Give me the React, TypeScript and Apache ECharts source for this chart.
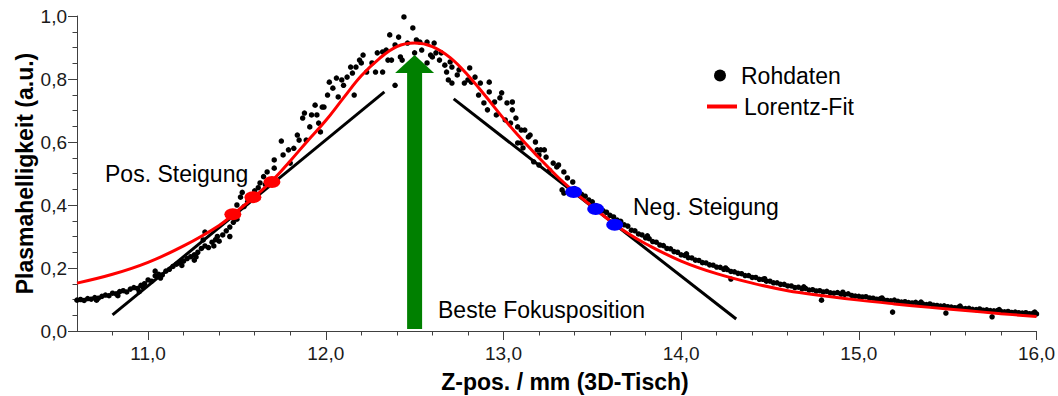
import React, { useEffect, useRef } from "react";
import * as echarts from "echarts";

const FONT = "'Liberation Sans', Arial, sans-serif";

// Tick values
const xMajorTicks = [11, 12, 13, 14, 15, 16];
const xMinorTicks = [10.8, 11.2, 11.4, 11.6, 11.8, 12.2, 12.4, 12.6, 12.8, 13.2, 13.4, 13.6, 13.8, 14.2, 14.4, 14.6, 14.8, 15.2, 15.4, 15.6, 15.8];

// Raw data (Rohdaten)
const rawLeftTail: [number, number][] = [
  [10.6, 0.098], [10.62, 0.1], [10.64, 0.097], [10.66, 0.103], [10.68, 0.101], [10.7, 0.106], [10.72, 0.104],
  [10.74, 0.11], [10.76, 0.114], [10.78, 0.112], [10.8, 0.12], [10.82, 0.118], [10.84, 0.125], [10.86, 0.128],
  [10.88, 0.124], [10.9, 0.133], [10.92, 0.138], [10.94, 0.135], [10.96, 0.145], [10.98, 0.15], [11.0, 0.162],
  [11.02, 0.158], [11.04, 0.175], [11.06, 0.18], [11.08, 0.178], [11.1, 0.19], [11.12, 0.196], [11.14, 0.205],
  [11.16, 0.212], [11.18, 0.218], [11.2, 0.222], [11.22, 0.23], [11.24, 0.236], [11.26, 0.242], [11.28, 0.25],
  [11.3, 0.262], [11.32, 0.27], [11.34, 0.265], [11.36, 0.282], [11.38, 0.29], [11.4, 0.285], [11.42, 0.305],
  [11.44, 0.318], [11.46, 0.33], [11.48, 0.345], [11.5, 0.355],
  [11.26, 0.225], [11.32, 0.314], [11.31, 0.289], [11.39, 0.3], [11.46, 0.3], [11.37, 0.27], [11.04, 0.19], [10.95, 0.125],
  [10.71, 0.098], [10.83, 0.112], [10.97, 0.14], [11.07, 0.168], [11.19, 0.208], [11.27, 0.235],
];
const rawRise: [number, number][] = [
  [11.5, 0.4], [11.52, 0.425], [11.53, 0.44], [11.54, 0.395], [11.56, 0.41], [11.58, 0.43], [11.6, 0.445],
  [11.62, 0.455], [11.63, 0.47], [11.65, 0.49], [11.66, 0.465],
  [11.67, 0.505], [11.71, 0.517], [11.71, 0.543], [11.75, 0.603], [11.76, 0.559], [11.79, 0.575], [11.8, 0.533],
  [11.82, 0.58], [11.84, 0.622], [11.85, 0.606], [11.87, 0.676], [11.88, 0.692], [11.89, 0.606], [11.91, 0.648],
  [11.92, 0.686], [11.94, 0.717], [11.95, 0.686], [11.96, 0.66], [11.97, 0.632], [11.98, 0.711],
];
const rawPeak: [number, number][] = [
  [11.99, 0.711], [12.01, 0.749], [12.02, 0.79], [12.04, 0.771], [12.06, 0.803], [12.07, 0.743], [12.09, 0.797],
  [12.1, 0.78], [12.12, 0.806], [12.14, 0.838], [12.15, 0.819], [12.16, 0.749], [12.17, 0.838], [12.19, 0.86],
  [12.2, 0.851], [12.21, 0.876], [12.23, 0.822], [12.26, 0.851], [12.28, 0.822], [12.29, 0.883], [12.32, 0.886],
  [12.32, 0.822], [12.34, 0.892], [12.35, 0.86], [12.36, 0.94], [12.37, 0.86], [12.39, 0.908], [12.39, 0.78],
  [12.41, 0.933], [12.42, 0.87], [12.43, 0.86], [12.44, 0.997], [12.46, 0.914], [12.49, 0.962], [12.5, 0.883],
  [12.51, 0.924], [12.53, 0.917], [12.54, 0.892], [12.57, 0.917], [12.57, 0.851], [12.59, 0.876], [12.6, 0.87],
  [12.61, 0.914], [12.62, 0.883], [12.64, 0.86], [12.65, 0.883], [12.67, 0.844], [12.68, 0.822], [12.7, 0.854],
  [12.69, 0.797], [12.71, 0.838], [12.74, 0.813], [12.71, 0.787],
];
const rawFall: [number, number][] = [
  [12.75, 0.829], [12.78, 0.787], [12.8, 0.797], [12.81, 0.835], [12.82, 0.79], [12.84, 0.806], [12.86, 0.749],
  [12.87, 0.787], [12.89, 0.724], [12.91, 0.702], [12.92, 0.79], [12.92, 0.759], [12.95, 0.727], [12.96, 0.686],
  [12.98, 0.74], [12.99, 0.756], [13.01, 0.67], [13.02, 0.724], [13.04, 0.66], [13.05, 0.727], [13.05, 0.702],
  [13.07, 0.676], [13.08, 0.648], [13.1, 0.638], [13.1, 0.597], [13.12, 0.638], [13.14, 0.616], [13.15, 0.622],
  [13.18, 0.6], [13.19, 0.575], [13.08, 0.597], [13.11, 0.581], [13.2, 0.559], [13.21, 0.575], [13.23, 0.575],
  [13.24, 0.552], [13.17, 0.537], [13.2, 0.527], [13.28, 0.533], [13.3, 0.521], [13.31, 0.527], [13.34, 0.505],
  [13.36, 0.486], [13.33, 0.448], [13.34, 0.438], [13.39, 0.473], [13.26, 0.51],
];
const rawRightTail: [number, number][] = [
  [13.4, 0.452], [13.42, 0.446], [13.44, 0.434], [13.46, 0.428], [13.48, 0.416], [13.5, 0.41], [13.52, 0.398],
  [13.54, 0.393], [13.56, 0.382], [13.58, 0.377], [13.6, 0.367], [13.62, 0.362], [13.64, 0.352], [13.66, 0.348],
  [13.68, 0.337], [13.7, 0.333], [13.72, 0.32], [13.74, 0.318], [13.76, 0.308], [13.78, 0.305], [13.8, 0.296],
  [13.82, 0.293], [13.84, 0.284], [13.86, 0.282], [13.88, 0.273], [13.9, 0.271], [13.92, 0.262], [13.94, 0.261],
  [13.96, 0.252], [13.98, 0.25], [14.0, 0.242], [14.02, 0.24], [14.04, 0.233], [14.06, 0.232], [14.08, 0.225],
  [14.1, 0.224], [14.12, 0.217], [14.14, 0.216], [14.16, 0.21], [14.18, 0.209], [14.2, 0.203], [14.22, 0.202],
  [14.24, 0.196], [14.26, 0.195], [14.28, 0.189], [14.3, 0.188], [14.32, 0.183], [14.34, 0.182], [14.36, 0.176],
  [14.38, 0.176], [14.4, 0.17], [14.42, 0.17], [14.44, 0.164], [14.46, 0.164], [14.48, 0.158], [14.5, 0.158],
  [14.52, 0.153], [14.54, 0.153], [14.56, 0.148], [14.58, 0.148], [14.6, 0.143], [14.62, 0.143], [14.64, 0.138],
  [14.66, 0.139], [14.68, 0.134], [14.7, 0.135], [14.72, 0.13], [14.74, 0.131], [14.76, 0.127], [14.78, 0.128],
  [14.8, 0.124], [14.82, 0.126], [14.84, 0.121], [14.86, 0.12], [14.88, 0.122], [14.9, 0.117], [14.92, 0.116],
  [14.94, 0.118], [14.96, 0.113], [14.98, 0.111], [15.0, 0.11], [15.02, 0.108], [15.04, 0.109], [15.06, 0.105],
  [15.08, 0.104], [15.1, 0.101], [15.12, 0.102], [15.14, 0.099], [15.16, 0.097], [15.18, 0.096], [15.2, 0.098],
  [15.22, 0.094], [15.24, 0.092], [15.26, 0.093], [15.28, 0.09], [15.3, 0.089], [15.32, 0.091], [15.34, 0.087],
  [15.36, 0.086], [15.38, 0.084], [15.4, 0.086], [15.42, 0.082], [15.44, 0.081], [15.46, 0.079], [15.48, 0.08],
  [15.5, 0.077], [15.52, 0.076], [15.54, 0.074], [15.56, 0.075], [15.58, 0.072], [15.6, 0.071], [15.62, 0.072],
  [15.64, 0.069], [15.66, 0.068], [15.68, 0.07], [15.7, 0.066], [15.72, 0.067], [15.74, 0.065], [15.76, 0.064],
  [15.78, 0.065], [15.8, 0.062], [15.82, 0.061], [15.84, 0.062], [15.86, 0.059], [15.88, 0.06], [15.9, 0.058],
  [15.92, 0.057], [15.94, 0.058], [15.96, 0.055], [15.98, 0.056], [16.0, 0.054],
  [14.79, 0.098], [15.19, 0.06], [15.49, 0.057], [15.75, 0.045], [14.28, 0.165],
  [13.81, 0.302], [14.03, 0.245], [14.25, 0.2], [14.47, 0.166], [14.69, 0.14], [14.91, 0.123], [15.13, 0.105],
  [15.35, 0.092], [15.57, 0.079], [15.79, 0.068], [15.99, 0.06],
];

// Lorentz fit curve
const lorentzFit: [number, number][] = [
  [10.6, 0.152], [10.8, 0.18], [11.0, 0.218], [11.2, 0.27], [11.4, 0.335], [11.5, 0.38], [11.6, 0.427],
  [11.7, 0.478], [11.8, 0.54], [11.9, 0.605], [12.0, 0.668], [12.1, 0.74], [12.2, 0.81], [12.3, 0.864],
  [12.4, 0.903], [12.5, 0.914], [12.6, 0.903], [12.7, 0.868], [12.8, 0.812], [12.9, 0.745], [13.0, 0.675],
  [13.1, 0.61], [13.2, 0.55], [13.3, 0.492], [13.4, 0.441], [13.5, 0.395], [13.6, 0.35], [13.7, 0.31],
  [13.8, 0.277], [14.0, 0.222], [14.2, 0.182], [14.4, 0.152], [14.6, 0.128], [14.8, 0.112], [15.0, 0.098],
  [15.2, 0.086], [15.4, 0.075], [15.6, 0.065], [15.8, 0.055], [16.0, 0.046],
];

// Tangent lines and slope markers
const tangentPos: [number, number][] = [[10.8, 0.051], [12.33, 0.759]];
const tangentNeg: [number, number][] = [[12.72, 0.737], [14.31, 0.038]];
const posSlopePoints: [number, number][] = [[11.477, 0.371], [11.59, 0.425], [11.697, 0.473]];
const negSlopePoints: [number, number][] = [[13.395, 0.441], [13.519, 0.387], [13.626, 0.337]];
// Best focus arrow: x, bottom y, tip y, head base y
const focusArrow: number[][] = [[12.5, 0.006, 0.876, 0.819]];

const ELLIPSE = "path://M1,0A1,1 0 1,1 -1,0A1,1 0 1,1 1,0Z";
const fmt = (v: number) => v.toFixed(1).replace(".", ",");

export default function App() {
  const ref = useRef<HTMLDivElement>(null);
  useEffect(() => {
    if (!ref.current) return;
    const chart = echarts.init(ref.current, undefined, { renderer: "svg" });
    const rawData = [...rawLeftTail, ...rawRise, ...rawPeak, ...rawFall, ...rawRightTail];
    const axisColor = "#404040";
    chart.setOption({
      animation: false,
      backgroundColor: "#fff",
      textStyle: { fontFamily: FONT },
      grid: { left: 77, right: 21, top: 16, bottom: 65, containLabel: false },
      xAxis: [
        {
          type: "value", min: 10.6, max: 16, position: "bottom",
          axisLine: { show: true, lineStyle: { color: axisColor, width: 1 } },
          axisTick: { show: true, customValues: xMajorTicks, length: 9, lineStyle: { color: axisColor } },
          axisLabel: { customValues: xMajorTicks, formatter: fmt, fontSize: 19, fontFamily: FONT, color: "#1a1a1a", margin: 13 },
          splitLine: { show: false },
        },
        {
          type: "value", min: 10.6, max: 16, position: "bottom",
          axisLine: { show: false },
          axisTick: { show: true, customValues: xMinorTicks, length: 4.5, lineStyle: { color: axisColor } },
          axisLabel: { show: false },
          splitLine: { show: false },
        },
      ],
      yAxis: {
        type: "value", min: 0, max: 1, interval: 0.2,
        axisLine: { show: true, lineStyle: { color: axisColor, width: 1 } },
        axisTick: { show: true, length: 9, lineStyle: { color: axisColor } },
        minorTick: { show: true, splitNumber: 4, length: 4.5, lineStyle: { color: axisColor } },
        axisLabel: { formatter: fmt, fontSize: 19, fontFamily: FONT, color: "#1a1a1a", margin: 10 },
        splitLine: { show: false },
        minorSplitLine: { show: false },
      },
      legend: [
        {
          data: [{ name: "Rohdaten", icon: ELLIPSE, itemStyle: { color: "#000", opacity: 1 } }],
          left: 714, top: 64, padding: 0, itemWidth: 18, itemHeight: 12, selectedMode: false,
          textStyle: { fontSize: 23, fontFamily: FONT, color: "#000", padding: [0, 0, 0, 7] },
        },
        {
          data: [{ name: "Lorentz-Fit", icon: "rect", itemStyle: { color: "#ff0000" } }],
          left: 707, top: 95, padding: 0, itemWidth: 30, itemHeight: 4, selectedMode: false,
          textStyle: { fontSize: 23, fontFamily: FONT, color: "#000", padding: [0, 0, 0, 2] },
        },
      ],
      graphic: [
        { type: "text", x: 25, y: 173.5, rotation: Math.PI / 2, style: { text: "Plasmahelligkeit (a.u.)", font: `bold 23px ${FONT}`, fill: "#000", align: "center", verticalAlign: "middle" } },
        { type: "text", x: 565, y: 382, style: { text: "Z-pos. / mm (3D-Tisch)", font: `bold 23px ${FONT}`, fill: "#000", align: "center", verticalAlign: "middle" } },
        { type: "text", x: 105, y: 174, style: { text: "Pos. Steigung", font: `23px ${FONT}`, fill: "#000", align: "left", verticalAlign: "middle" } },
        { type: "text", x: 633, y: 207, style: { text: "Neg. Steigung", font: `23px ${FONT}`, fill: "#000", align: "left", verticalAlign: "middle" } },
        { type: "text", x: 438, y: 310, style: { text: "Beste Fokusposition", font: `23px ${FONT}`, fill: "#000", align: "left", verticalAlign: "middle" } },
      ],
      series: [
        {
          name: "Rohdaten", type: "scatter", data: rawData, symbol: "circle", symbolSize: 5.5,
          itemStyle: { color: "#000", opacity: 1 }, z: 2,
        },
        {
          type: "line", data: tangentPos, symbol: "none", lineStyle: { color: "#000", width: 3 }, z: 3,
        },
        {
          type: "line", data: tangentNeg, symbol: "none", lineStyle: { color: "#000", width: 3 }, z: 3,
        },
        {
          name: "Lorentz-Fit", type: "line", data: lorentzFit, smooth: 0.4, symbol: "none", showSymbol: false,
          lineStyle: { color: "#ff0000", width: 3 }, itemStyle: { color: "#ff0000" }, z: 4,
        },
        {
          type: "scatter", data: posSlopePoints, symbol: ELLIPSE, symbolSize: [17, 12],
          itemStyle: { color: "#ff0000", opacity: 1 }, z: 5,
        },
        {
          type: "scatter", data: negSlopePoints, symbol: ELLIPSE, symbolSize: [17, 12],
          itemStyle: { color: "#0000ff", opacity: 1 }, z: 5,
        },
        {
          type: "custom", data: focusArrow, encode: { x: 0, y: [1, 2] }, z: 6, clip: false,
          renderItem: (_params: any, api: any) => {
            const x = api.value(0);
            const pb = api.coord([x, api.value(1)]);
            const pt = api.coord([x, api.value(2)]);
            const ph = api.coord([x, api.value(3)]);
            const green = "#008000";
            return {
              type: "group",
              children: [
                { type: "rect", shape: { x: pb[0] - 7.5, y: ph[1] - 1, width: 15, height: pb[1] - ph[1] + 1 }, style: { fill: green } },
                { type: "polygon", shape: { points: [[pt[0], pt[1]], [ph[0] - 19.5, ph[1]], [ph[0] + 19.5, ph[1]]] }, style: { fill: green } },
              ],
            };
          },
        },
      ],
    });
    return () => chart.dispose();
  }, []);
  return <div ref={ref} style={{ position: "absolute", left: 0, top: 0, width: 1058, height: 396 }} />;
}
